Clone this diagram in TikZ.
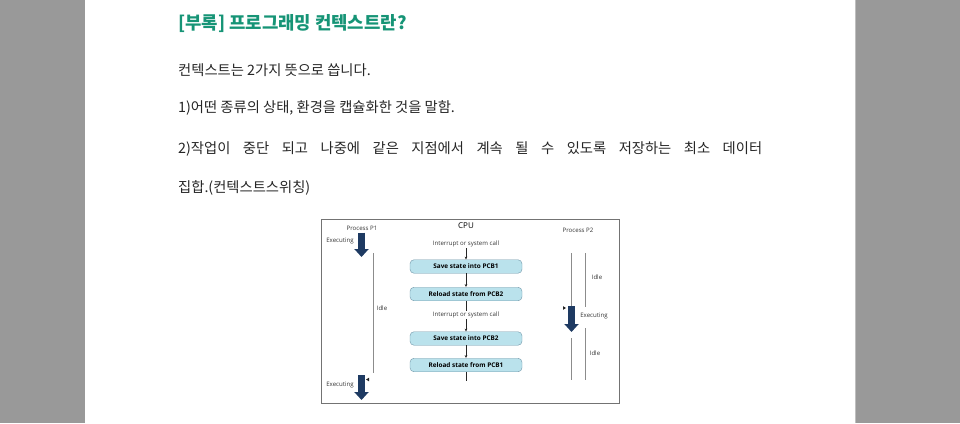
\documentclass[tikz,border=0pt]{standalone}
\usepackage{fontspec}
\newfontfamily\krfont{Noto Sans CJK KR}
\newfontfamily\figfont{Open Sans}
\usepackage{tikz}
\usetikzlibrary{arrows.meta}
\usetikzlibrary{positioning}

\definecolor{titlegreen}{RGB}{22,148,118}
\definecolor{pagegray}{RGB}{153,153,153}
\definecolor{navyarrow}{RGB}{30,58,98}
\definecolor{boxfill}{RGB}{186,226,236}
\definecolor{boxline}{RGB}{112,150,168}

\tikzset{
	titletext/.style={anchor=west,inner sep=0pt,text=titlegreen,font=\krfont\bfseries\fontsize{17.8}{21}\selectfont},
	bodytext/.style={anchor=west,inner sep=0pt,text=black!85,font=\krfont\fontsize{14.3}{17}\selectfont},
	smalltext/.style={inner sep=1pt,text=black!80,font=\figfont\fontsize{6.1}{7}\selectfont},
	statebox/.style={draw=boxline,fill=boxfill,rounded corners=4pt,minimum width=112pt,minimum height=13.5pt,inner sep=0pt,font=\figfont\bfseries\fontsize{6.4}{7}\selectfont},
	runarrow/.style={navyarrow,line width=6.5pt,-{Triangle[width=14pt,length=8pt]}},
	idleline/.style={black!45,line width=0.7pt},
	flowline/.style={black!85,line width=0.5pt},
	flowarrow/.style={flowline,-{Stealth[length=3pt,width=2.6pt]}},
}

\begin{document}
\begin{tikzpicture}[x=1pt,y=-1pt]
\useasboundingbox (0,0) rectangle (960,423);

% page and margins
\fill[pagegray] (0,0) rectangle (85,423);
\fill[pagegray] (855,0) rectangle (960,423);
\draw[black!25,line width=1pt] (855.5,0) -- (855.5,423);

% text
\node[titletext] (title) at (178,24) {[부록] 프로그래밍 컨텍스트란?};
\node[bodytext] (lineA) at (178,70) {컨텍스트는 2가지 뜻으로 씁니다.};
\node[bodytext] (lineB) at (178,108) {1)어떤 종류의 상태, 환경을 캡슐화한 것을 말함.};
\node[bodytext] (lineC) at (178,149) {\makebox[584pt][s]{2)작업이 중단 되고 나중에 같은 지점에서 계속 될 수 있도록 저장하는 최소 데이터}};
\node[bodytext] (lineD) at (178,188) {집합.(컨텍스트스위칭)};

% figure frame
\draw[black!55,line width=0.9pt] (321,219) rectangle (619,403);

% headings
\node[smalltext] (pone) at (362,228) {Process P1};
\node[inner sep=1pt,font=\figfont\fontsize{8}{9}\selectfont] (cpu) at (466,226) {CPU};
\node[smalltext] (ptwo) at (578,230) {Process P2};

% CPU column
\node[smalltext] (callA) at (466,244) {Interrupt or system call};
\node[smalltext] (callB) at (466,315) {Interrupt or system call};

\foreach \y/\txt/\nm in {266.5/Save state into PCB1/saveA, 294/Reload state from PCB2/loadB, 338.5/Save state into PCB2/saveB, 365/Reload state from PCB1/loadA}
{
	\node[statebox] (\nm) at (466,\y) {\txt};
}
\coordinate (cpuend) at (466,381);

\draw[flowarrow] (callA) -- (saveA);
\draw[flowarrow] (saveA) -- (loadB);
\draw[flowline] (loadB) -- (callB);
\draw[flowarrow] (callB) -- (saveB);
\draw[flowarrow] (saveB) -- (loadA);
\draw[flowline] (loadA) -- (cpuend);

% process P1
\node[smalltext] (execA) at (340,241) {Executing};
\node[smalltext] (idleA) at (382,308) {Idle};
\node[smalltext] (execB) at (340,385) {Executing};
\coordinate (runAtop) at (361.5,232.5);
\coordinate (runAend) at (361.5,257);
\coordinate (runBtop) at (361.5,375);
\coordinate (runBend) at (361.5,400);
\coordinate (idleAtop) at (373,253);
\coordinate (idleAend) at (373,373);
\draw[runarrow] (runAtop) -- (runAend);
\draw[runarrow] (runBtop) -- (runBend);
\draw[idleline] (idleAtop) -- (idleAend);
\fill[black!85] (366,379.5) -- +(3,-1.8) -- +(3,1.8) -- cycle;

% process P2
\node[smalltext] (idleB) at (597,277) {Idle};
\node[smalltext] (execC) at (594,316) {Executing};
\node[smalltext] (idleC) at (595,353) {Idle};
\coordinate (leftAtop) at (571.5,253);
\coordinate (leftAend) at (571.5,306);
\coordinate (runCend) at (571.5,332);
\coordinate (leftBtop) at (571.5,338);
\coordinate (leftBend) at (571.5,380);
\coordinate (rightAtop) at (585,253);
\coordinate (rightAend) at (585,307);
\coordinate (rightBtop) at (585,328);
\coordinate (rightBend) at (585,380);
\draw[idleline] (leftAtop) -- (leftAend);
\draw[runarrow] (leftAend) -- (runCend);
\draw[idleline] (leftBtop) -- (leftBend);
\draw[idleline] (rightAtop) -- (rightAend);
\draw[idleline] (rightBtop) -- (rightBend);
\fill[black!85] (566,308) -- +(-3,-1.8) -- +(-3,1.8) -- cycle;

\end{tikzpicture}
\end{document}
